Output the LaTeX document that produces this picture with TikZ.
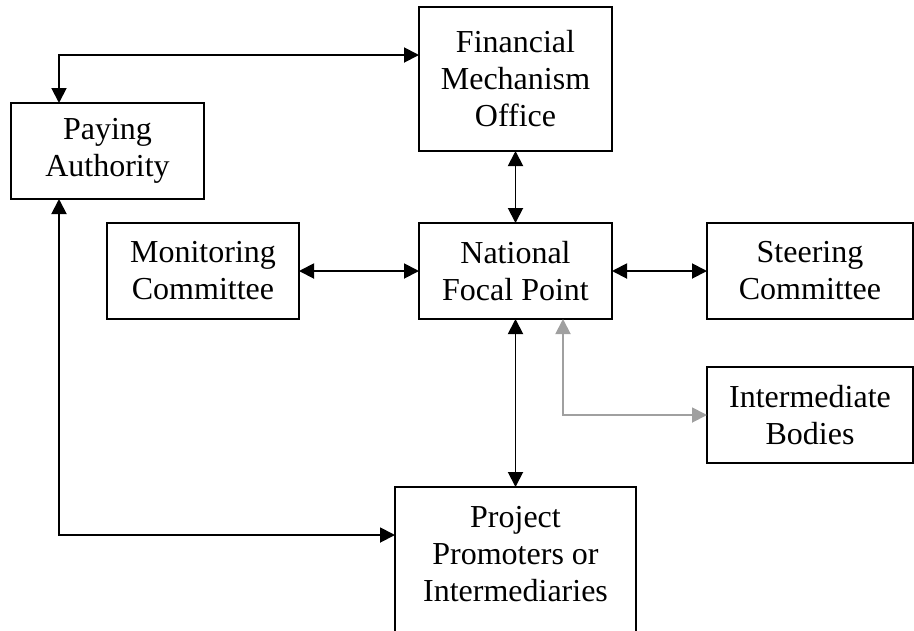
\documentclass[tikz,border=0pt]{standalone}
\usepackage{fontspec}
\setmainfont{Liberation Serif}
\usetikzlibrary{positioning,calc,arrows.meta}
\definecolor{linkgray}{RGB}{160,160,160}

\begin{document}
\begin{tikzpicture}[x=1pt,y=-1pt,line width=1.9pt,
    box/.style={draw,rectangle,align=center,outer sep=0pt,inner sep=0pt,
      minimum width=193pt,minimum height=96pt,font=\fontsize{32}{37}\selectfont},
    dbl/.style={{Triangle[length=15pt,width=15pt]}-{Triangle[length=15pt,width=15pt]}}]
                \clip (0,0) rectangle (914,630);
                \node[box,minimum width=192pt] (mc) at (203,271) {Monitoring\\Committee};
                \node[box,right=120pt of mc] (nfp) {National\\Focal Point};
                \node[box,right=95pt of nfp,minimum width=206pt] (sc) {Steering\\Committee};
                \node[box,below=48pt of sc,minimum width=206pt] (ib) {Intermediate\\Bodies};
                \node[box,above=72pt of nfp,minimum height=144pt] (fmo) {Financial\\Mechanism\\Office};
                \node[box] (pa) at (107.5,151) {Paying\\Authority};
                \node[box,below=168pt of nfp,minimum width=241pt,inner ysep=19pt,text depth=110pt] (pp) {Project\\Promoters or\\Intermediaries};
                \draw[dbl] ($(pa.north west)+(48,0)$) |- ($(fmo.north west)+(0,48)$);
                \draw[dbl] (fmo.south) -- (nfp.north);
                \draw[dbl] (mc.east) -- (nfp.west);
                \draw[dbl] (nfp.east) -- (sc.west);
                \draw[dbl] (nfp.south) -- (pp.north);
                \draw[dbl,linkgray] ($(nfp.south)+(47.5,0)$) |- (ib.west);
                \draw[dbl] ($(pa.south west)+(48,0)$) |- ($(pp.north west)+(0,48)$);
            \end{tikzpicture}
\end{document}
